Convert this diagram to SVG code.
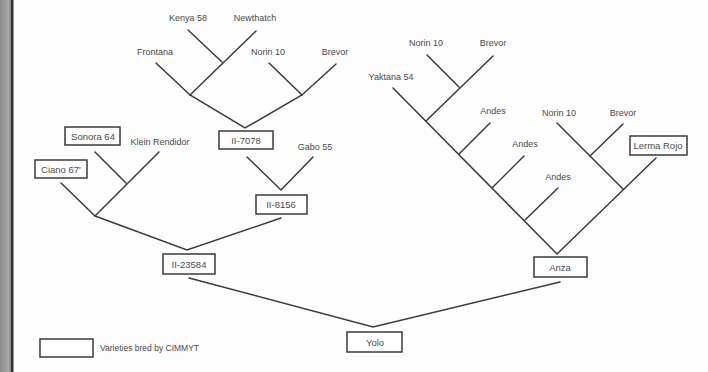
<svg xmlns="http://www.w3.org/2000/svg" width="708" height="372" viewBox="0 0 708 372">
<style>
  .bg{fill:#fdfdfd}
  .ln{stroke:#3a3a3a;stroke-width:1.5;fill:none;stroke-linecap:round}
  .box{fill:#fff;stroke:#3a3a3a;stroke-width:1.5}
  .lbl{font-family:"Liberation Sans",Arial,sans-serif;font-size:9px;fill:#4a4a4a;text-anchor:middle}
  .blbl{font-family:"Liberation Sans",Arial,sans-serif;font-size:9.5px;fill:#4a4a4a;text-anchor:middle}
  .leg{font-family:"Liberation Sans",Arial,sans-serif;font-size:8.5px;fill:#4a4a4a}
</style>
<defs>
  <linearGradient id="edge" x1="0" y1="0" x2="1" y2="0">
    <stop offset="0" stop-color="#8a8a8a"/>
    <stop offset="0.7" stop-color="#a8a8a8"/>
    <stop offset="1" stop-color="#777"/>
  </linearGradient>
</defs>
<rect class="bg" x="0" y="0" width="708" height="372"/>
<rect x="0" y="0" width="12" height="372" fill="url(#edge)"/>
<rect x="11" y="0" width="2.5" height="372" fill="#333"/>

<g id="connectors">
  <!-- left top tree -->
  <polyline class="ln" points="188,30 222,62"/>
  <polyline class="ln" points="256,31 190,95"/>
  <polyline class="ln" points="156,63 190,95 245,128 302,95 336,64"/>
  <polyline class="ln" points="269,63 302,95"/>
  <!-- II-7078 / Gabo -> II-8156 -->
  <polyline class="ln" points="247,157 281,190 313,157"/>
  <!-- Sonora / Klein / Ciano -->
  <polyline class="ln" points="95,152 126,183"/>
  <polyline class="ln" points="159,152 95,216 61,183"/>
  <polyline class="ln" points="95,216 187,250 281,218"/>
  <!-- to Yolo -->
  <polyline class="ln" points="189,278 373,327 560,282"/>
  <!-- right tree -->
  <polyline class="ln" points="427,55 459,87"/>
  <polyline class="ln" points="493,56 426,121"/>
  <polyline class="ln" points="393,88 557,254 656,158"/>
  <polyline class="ln" points="490,123 459,154"/>
  <polyline class="ln" points="524,156 492,188"/>
  <polyline class="ln" points="558,188 525,220"/>
  <polyline class="ln" points="557,123 623,189"/>
  <polyline class="ln" points="623,124 590,156"/>
</g>

<g id="kenya58"><text class="lbl" x="188" y="21">Kenya 58</text></g>
<g id="newthatch"><text class="lbl" x="255" y="21">Newthatch</text></g>
<g id="frontana"><text class="lbl" x="155" y="55">Frontana</text></g>
<g id="norin10a"><text class="lbl" x="268" y="55">Norin 10</text></g>
<g id="brevora"><text class="lbl" x="335" y="55">Brevor</text></g>
<g id="ii7078"><rect class="box" x="219" y="131" width="54" height="18"/><text class="blbl" x="246" y="143.5">II-7078</text></g>
<g id="gabo55"><text class="lbl" x="315" y="150">Gabo 55</text></g>
<g id="sonora64"><rect class="box" x="65" y="127" width="55" height="18"/><text class="blbl" x="93" y="139.5">Sonora 64</text></g>
<g id="kleinrendidor"><text class="lbl" x="160" y="145">Klein Rendidor</text></g>
<g id="ciano67"><rect class="box" x="35" y="160" width="52" height="18"/><text class="blbl" x="61" y="172.5">Ciano 67'</text></g>
<g id="ii8156"><rect class="box" x="256" y="195" width="51" height="19"/><text class="blbl" x="281" y="208">II-8156</text></g>
<g id="ii23584"><rect class="box" x="163" y="254" width="52" height="20"/><text class="blbl" x="189" y="267.5">II-23584</text></g>

<g id="norin10b"><text class="lbl" x="426" y="46">Norin 10</text></g>
<g id="brevorb"><text class="lbl" x="493" y="46">Brevor</text></g>
<g id="yaktana54"><text class="lbl" x="391" y="80">Yaktana 54</text></g>
<g id="andes1"><text class="lbl" x="493" y="114">Andes</text></g>
<g id="andes2"><text class="lbl" x="525" y="147">Andes</text></g>
<g id="andes3"><text class="lbl" x="558" y="180">Andes</text></g>
<g id="norin10c"><text class="lbl" x="559" y="116">Norin 10</text></g>
<g id="brevorc"><text class="lbl" x="623" y="116">Brevor</text></g>
<g id="lermarojo"><rect class="box" x="630" y="136" width="57" height="19"/><text class="blbl" x="658" y="149">Lerma Rojo</text></g>
<g id="anza"><rect class="box" x="534" y="257" width="53" height="20"/><text class="blbl" x="560" y="270.5">Anza</text></g>

<g id="yolo"><rect class="box" x="347" y="332" width="55" height="20"/><text class="blbl" x="375" y="345.5">Yolo</text></g>

<g id="legend"><rect class="box" x="40" y="339" width="53" height="18"/><text class="leg" x="100" y="351">Varieties bred by CIMMYT</text></g>
</svg>
